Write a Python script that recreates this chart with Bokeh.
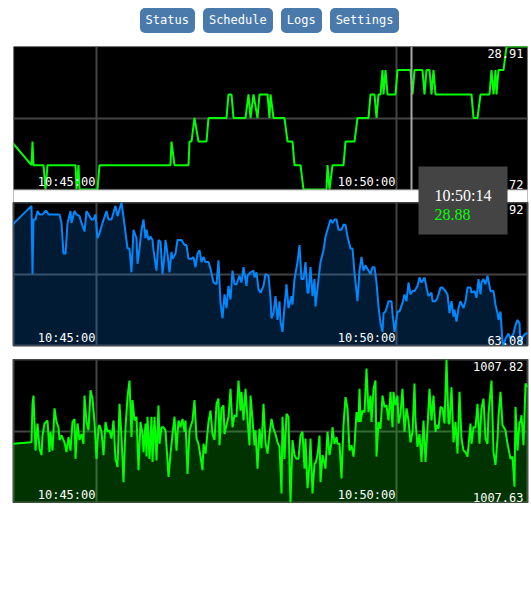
from datetime import datetime, timedelta

from bokeh.plotting import figure
from bokeh.models import Range1d, Grid, FixedTicker, Span, BoxAnnotation, Label, Div
from bokeh.layouts import column
from bokeh.core.properties import value
from bokeh.embed import file_html
from bokeh.resources import INLINE

# ---------------- data ----------------
buttons = ["Status", "Schedule", "Logs", "Settings"]

base_time = "10:45:00"                 # time of offset 0 (seconds)
tick_offsets = [0, 300]
tick_labels = ["10:45:00", "10:50:00"]
view_start, view_end = -83, 431        # visible window, seconds from base_time

hover_t = 314                           # sample under the mouse
cursor_t = 315                          # mouse position

# series 1 (temperature, green line)
t1 = [-85, -65, -64, -63, -53, -51, -49, -21, -20, -18, -17, 1, 3, 74, 75, 78, 92, 93, 95, 98,
      102, 110, 112, 130, 132, 135, 137, 149, 152, 154, 157, 161, 163, 171, 173, 174, 177, 188, 191, 196,
      198, 204, 207, 230, 231, 233, 236, 247, 249, 258, 261, 272, 274, 278, 280, 282, 284, 286, 287, 289,
      291, 299, 301, 314, 316, 318, 326, 328, 330, 333, 335, 337, 339, 375, 377, 381, 384, 393, 395, 397,
      399, 400, 402, 407, 410, 435]
v1 = [28.783, 28.752, 28.783, 28.752, 28.752, 28.720, 28.752, 28.752, 28.720, 28.752,
      28.720, 28.720, 28.752, 28.752, 28.783, 28.752, 28.752, 28.783, 28.783, 28.814,
      28.783, 28.783, 28.814, 28.814, 28.845, 28.845, 28.814, 28.814, 28.845, 28.814,
      28.845, 28.814, 28.845, 28.845, 28.814, 28.845, 28.814, 28.814, 28.783, 28.783,
      28.752, 28.752, 28.720, 28.720, 28.752, 28.720, 28.752, 28.752, 28.783, 28.783,
      28.814, 28.814, 28.845, 28.845, 28.814, 28.845, 28.845, 28.877, 28.845, 28.877,
      28.845, 28.845, 28.877, 28.877, 28.845, 28.877, 28.877, 28.845, 28.877, 28.877,
      28.845, 28.877, 28.845, 28.845, 28.814, 28.814, 28.845, 28.845, 28.877, 28.845,
      28.877, 28.845, 28.877, 28.877, 28.908, 28.908]

# series 2 (humidity, blue area)
t2 = [-84, -65, -64, -63, -61, -59, -57, -54, -51, -50, -48, -37, -35, -33, -31, -29, -26, -25, -22, -20,
      -17, -15, -12, -10, -7, -5, -3, -1, 1, 3, 6, 10, 12, 15, 19, 21, 23, 25, 28, 31,
      33, 35, 37, 40, 41, 43, 45, 47, 49, 50, 52, 54, 56, 57, 60, 62, 64, 66, 68, 69,
      71, 73, 75, 76, 79, 81, 85, 88, 90, 92, 95, 97, 99, 101, 103, 105, 107, 109, 112, 114,
      117, 120, 122, 124, 126, 128, 130, 132, 134, 136, 138, 140, 143, 145, 147, 150, 151, 154, 157, 158,
      160, 162, 164, 167, 169, 172, 174, 175, 177, 179, 181, 183, 184, 186, 188, 190, 192, 195, 196, 198,
      201, 203, 205, 207, 209, 211, 212, 214, 216, 218, 219, 222, 224, 227, 229, 231, 234, 236, 238, 240,
      242, 245, 247, 249, 251, 254, 256, 258, 261, 263, 265, 267, 269, 271, 274, 276, 278, 280, 282, 284,
      286, 287, 289, 292, 295, 296, 298, 301, 303, 306, 308, 310, 312, 314, 316, 318, 321, 323, 325, 328,
      330, 332, 335, 336, 339, 341, 344, 346, 349, 351, 353, 355, 357, 358, 360, 362, 364, 367, 369, 371,
      374, 375, 378, 380, 382, 384, 385, 387, 389, 391, 394, 397, 399, 401, 402, 404, 406, 407, 409, 412,
      414, 417, 419, 421, 423, 424, 426, 429, 432]
v2 = [63.79, 63.90, 63.50, 63.82, 63.82, 63.87, 63.85, 63.85, 63.87, 63.87,
      63.85, 63.85, 63.80, 63.62, 63.62, 63.80, 63.87, 63.80, 63.87, 63.85,
      63.84, 63.80, 63.75, 63.87, 63.84, 63.82, 63.82, 63.85, 63.71, 63.74,
      63.80, 63.87, 63.82, 63.82, 63.90, 63.84, 63.88, 63.92, 63.79, 63.65,
      63.65, 63.51, 63.76, 63.71, 63.56, 63.65, 63.76, 63.82, 63.71, 63.76,
      63.70, 63.72, 63.70, 63.64, 63.52, 63.70, 63.69, 63.50, 63.61, 63.70,
      63.62, 63.51, 63.63, 63.59, 63.62, 63.70, 63.70, 63.67, 63.67, 63.59,
      63.59, 63.60, 63.54, 63.62, 63.64, 63.57, 63.60, 63.57, 63.57, 63.53,
      63.45, 63.44, 63.58, 63.33, 63.24, 63.38, 63.30, 63.43, 63.35, 63.52,
      63.44, 63.44, 63.49, 63.45, 63.54, 63.43, 63.49, 63.51, 63.52, 63.48,
      63.51, 63.41, 63.39, 63.43, 63.50, 63.49, 63.36, 63.24, 63.27, 63.37,
      63.23, 63.34, 63.22, 63.16, 63.31, 63.44, 63.30, 63.37, 63.32, 63.47,
      63.57, 63.67, 63.47, 63.47, 63.57, 63.39, 63.39, 63.54, 63.37, 63.47,
      63.31, 63.47, 63.57, 63.64, 63.72, 63.76, 63.82, 63.80, 63.82, 63.82,
      63.76, 63.76, 63.79, 63.79, 63.72, 63.65, 63.65, 63.51, 63.34, 63.52,
      63.60, 63.52, 63.55, 63.53, 63.50, 63.54, 63.54, 63.45, 63.31, 63.21,
      63.16, 63.27, 63.28, 63.34, 63.34, 63.27, 63.16, 63.28, 63.28, 63.33,
      63.38, 63.34, 63.45, 63.38, 63.40, 63.40, 63.43, 63.48, 63.45, 63.48,
      63.42, 63.37, 63.39, 63.34, 63.34, 63.36, 63.42, 63.42, 63.40, 63.38,
      63.27, 63.34, 63.25, 63.29, 63.22, 63.30, 63.34, 63.30, 63.34, 63.42,
      63.42, 63.39, 63.40, 63.36, 63.47, 63.38, 63.45, 63.47, 63.44, 63.49,
      63.40, 63.40, 63.32, 63.27, 63.23, 63.28, 63.10, 63.08, 63.12, 63.15,
      63.12, 63.15, 63.20, 63.23, 63.21, 63.08, 63.13, 63.15, 63.15]

# series 3 (pressure, green area)
t3 = [-84, -65, -64, -63, -61, -60, -59, -57, -55, -54, -52, -49, -47, -46, -44, -42, -40, -38, -37, -35,
      -32, -30, -28, -26, -24, -22, -21, -19, -17, -15, -13, -12, -10, -8, -6, -4, -2, 0, 2, 3,
      5, 7, 9, 11, 13, 15, 17, 19, 21, 23, 25, 27, 29, 31, 33, 35, 36, 38, 40, 42,
      44, 46, 47, 49, 50, 51, 53, 55, 56, 58, 60, 62, 63, 65, 67, 69, 72, 74, 76, 78,
      80, 81, 82, 84, 86, 88, 89, 91, 93, 96, 98, 100, 102, 104, 106, 107, 109, 112, 114, 116,
      118, 120, 122, 123, 125, 127, 128, 130, 132, 134, 136, 138, 140, 142, 144, 145, 147, 149, 151, 153,
      154, 156, 158, 159, 161, 163, 165, 167, 169, 171, 173, 175, 177, 179, 181, 183, 185, 186, 188, 190,
      192, 193, 194, 196, 198, 200, 202, 204, 206, 208, 209, 211, 213, 214, 216, 218, 219, 221, 223, 224,
      226, 228, 229, 231, 233, 235, 236, 238, 240, 241, 243, 245, 247, 249, 251, 253, 255, 257, 258, 260,
      262, 263, 264, 266, 268, 270, 272, 274, 275, 277, 279, 280, 282, 284, 286, 288, 290, 292, 294, 296,
      297, 299, 301, 302, 304, 306, 308, 310, 312, 314, 316, 318, 319, 321, 323, 325, 327, 329, 331, 333,
      335, 337, 339, 340, 342, 344, 346, 348, 350, 352, 353, 355, 357, 359, 361, 363, 365, 367, 369, 371,
      374, 375, 377, 379, 381, 383, 385, 387, 389, 391, 392, 395, 397, 399, 401, 402, 404, 406, 409, 411,
      413, 414, 416, 418, 419, 421, 423, 424, 425, 427, 429, 432]
v3 = [1007.708, 1007.710, 1007.761, 1007.772, 1007.699, 1007.717, 1007.735, 1007.702, 1007.693, 1007.719,
      1007.735, 1007.739, 1007.697, 1007.724, 1007.699, 1007.755, 1007.737, 1007.730, 1007.713, 1007.719,
      1007.710, 1007.697, 1007.717, 1007.699, 1007.737, 1007.741, 1007.688, 1007.735, 1007.713, 1007.721,
      1007.708, 1007.772, 1007.737, 1007.726, 1007.779, 1007.768, 1007.737, 1007.688, 1007.730, 1007.733,
      1007.724, 1007.693, 1007.737, 1007.724, 1007.726, 1007.715, 1007.739, 1007.688, 1007.677, 1007.761,
      1007.717, 1007.657, 1007.730, 1007.770, 1007.792, 1007.717, 1007.766, 1007.739, 1007.744, 1007.673,
      1007.737, 1007.721, 1007.697, 1007.735, 1007.691, 1007.744, 1007.688, 1007.744, 1007.684, 1007.744,
      1007.686, 1007.759, 1007.708, 1007.730, 1007.730, 1007.726, 1007.664, 1007.695, 1007.721, 1007.744,
      1007.699, 1007.721, 1007.739, 1007.730, 1007.741, 1007.724, 1007.739, 1007.668, 1007.726, 1007.739,
      1007.766, 1007.715, 1007.708, 1007.691, 1007.673, 1007.708, 1007.695, 1007.737, 1007.752, 1007.721,
      1007.713, 1007.761, 1007.768, 1007.706, 1007.755, 1007.759, 1007.721, 1007.733, 1007.744, 1007.781,
      1007.730, 1007.746, 1007.744, 1007.792, 1007.752, 1007.777, 1007.739, 1007.781, 1007.741, 1007.706,
      1007.772, 1007.741, 1007.706, 1007.726, 1007.675, 1007.728, 1007.702, 1007.761, 1007.710, 1007.695,
      1007.721, 1007.741, 1007.728, 1007.721, 1007.710, 1007.704, 1007.642, 1007.744, 1007.688, 1007.748,
      1007.744, 1007.680, 1007.630, 1007.713, 1007.693, 1007.688, 1007.688, 1007.719, 1007.724, 1007.675,
      1007.715, 1007.649, 1007.680, 1007.715, 1007.642, 1007.682, 1007.682, 1007.693, 1007.719, 1007.657,
      1007.693, 1007.682, 1007.675, 1007.724, 1007.693, 1007.710, 1007.730, 1007.708, 1007.717, 1007.708,
      1007.708, 1007.662, 1007.733, 1007.770, 1007.755, 1007.699, 1007.706, 1007.691, 1007.706, 1007.750,
      1007.737, 1007.781, 1007.737, 1007.752, 1007.750, 1007.808, 1007.750, 1007.772, 1007.737, 1007.781,
      1007.792, 1007.691, 1007.737, 1007.728, 1007.772, 1007.757, 1007.759, 1007.739, 1007.777, 1007.730,
      1007.777, 1007.759, 1007.772, 1007.735, 1007.748, 1007.781, 1007.724, 1007.755, 1007.739, 1007.710,
      1007.724, 1007.788, 1007.739, 1007.704, 1007.721, 1007.684, 1007.739, 1007.684, 1007.730, 1007.781,
      1007.739, 1007.772, 1007.724, 1007.733, 1007.728, 1007.757, 1007.755, 1007.735, 1007.820, 1007.735,
      1007.735, 1007.783, 1007.710, 1007.737, 1007.695, 1007.777, 1007.715, 1007.699, 1007.697, 1007.691,
      1007.735, 1007.708, 1007.730, 1007.730, 1007.761, 1007.708, 1007.755, 1007.768, 1007.715, 1007.708,
      1007.748, 1007.792, 1007.697, 1007.680, 1007.715, 1007.744, 1007.777, 1007.733, 1007.726, 1007.708,
      1007.695, 1007.688, 1007.691, 1007.651, 1007.757, 1007.699, 1007.737, 1007.737, 1007.746, 1007.706,
      1007.788, 1007.783]

# ---------------- styling / layout ----------------
MONO = "DejaVu Sans Mono"
SERIF = "Liberation Serif"
GRID = "#444444"
PAGE_W = 531
PAD = 8            # visual page margin
LEFT = 13          # frame left edge on the page
BAND = 143         # chart height in px
GAP = 13           # gap below chart 1 (kept inside chart 1's frame so the tooltip can cross it)
TXT = dict(text_font=value(MONO), text_font_size="12px", text_color="#ffffff")


def make_chart(t, v, color, filled, height, border_bottom, extra_bottom=0):
    ymin, ymax = min(v), max(v)
    ystart = ymin - (ymax - ymin) * extra_bottom / BAND
    p = figure(width=PAGE_W, height=height,
               x_range=Range1d(view_start, view_end), y_range=Range1d(ystart, ymax),
               x_axis_location=None, y_axis_location=None,
               output_backend="svg", toolbar_location=None, tools="",
               min_border_left=LEFT, min_border_right=4,
               min_border_top=0, min_border_bottom=border_bottom,
               background_fill_color="black", border_fill_color="white",
               outline_line_color=GRID if extra_bottom == 0 else None, outline_line_width=2)
    p.grid.visible = False
    p.add_layout(Grid(dimension=0, ticker=FixedTicker(ticks=tick_offsets),
                      grid_line_color=GRID, grid_line_width=2))
    p.add_layout(Grid(dimension=1, ticker=FixedTicker(ticks=[(ymin + ymax) / 2]),
                      grid_line_color=GRID, grid_line_width=2))
    if filled:
        p.varea(x=t, y1=v, y2=ymin, fill_color=color, fill_alpha=0.2)
    p.line(t, v, line_color=color, line_width=2)

    p.text(x=tick_offsets, y=[ymin] * len(tick_offsets), text=tick_labels,
           text_align="right", text_baseline="bottom", x_offset=-1, y_offset=-1, **TXT)
    p.text(x=[view_end], y=[ymax], text=[f"{ymax:.2f}"], text_align="right",
           text_baseline="top", x_offset=-4, y_offset=2, **TXT)
    p.text(x=[view_end], y=[ymin], text=[f"{ymin:.2f}"], text_align="right",
           text_baseline="bottom", x_offset=-4, y_offset=-1, **TXT)
    return p, ymin, ymax


p1, y1min, y1max = make_chart(t1, v1, "#00ff00", False, BAND + GAP, 0, extra_bottom=GAP)
p2, _, _ = make_chart(t2, v2, "#0088ff", True, BAND + 14, 14)
p3, _, _ = make_chart(t3, v3, "#00ff00", True, BAND + 1, 1)

# hover cursor in chart 1
p1.add_layout(Span(location=cursor_t, dimension="height", line_color="#a8a8a8", line_width=2))
# white gap below chart 1 and its border
p1.add_layout(BoxAnnotation(left=0, right=PAGE_W, left_units="canvas", right_units="canvas",
                            top=y1min, bottom=BAND + GAP, bottom_units="canvas",
                            fill_color="white", fill_alpha=1.0, line_color=None))
p1.add_layout(BoxAnnotation(left=view_start, right=view_end, top=y1max, bottom=y1min,
                            fill_alpha=0, line_color=GRID, line_width=2))

h0 = datetime.strptime(base_time, "%H:%M:%S")
hover_time = (h0 + timedelta(seconds=hover_t)).strftime("%H:%M:%S")
hover_val = f"{v1[t1.index(hover_t)]:.2f}"

# tooltip box in page pixels
TIP_L, TIP_T, TIP_W, TIP_H = 418, 166, 89, 68
P1_TOP, P2_TOP = 46, 202
TIP_BG = "#444444"

for fig, top in ((p1, P1_TOP), (p2, P2_TOP)):
    fig.add_layout(BoxAnnotation(left=TIP_L, right=TIP_L + TIP_W,
                                 top=TIP_T - top, bottom=TIP_T + TIP_H - top,
                                 left_units="canvas", right_units="canvas",
                                 top_units="canvas", bottom_units="canvas",
                                 fill_color=TIP_BG, fill_alpha=1.0, line_color=None,
                                 level="overlay"))

p1.add_layout(Label(x=TIP_L + 16, y=TIP_T + 29 - P1_TOP, x_units="canvas", y_units="canvas",
                    text=hover_time, text_font=SERIF, text_font_size="16px",
                    text_color="#ffffff", text_baseline="alphabetic", level="overlay"))
p2.add_layout(Label(x=TIP_L + 16, y=TIP_T + 48 - P2_TOP, x_units="canvas", y_units="canvas",
                    text=hover_val, text_font=SERIF, text_font_size="16px",
                    text_color="#00ff00", text_baseline="alphabetic", level="overlay"))

# navigation buttons
btn_style = ("display:inline-block;background:#4a7aab;color:#ffffff;"
             f"font-family:'{MONO}';font-size:12px;height:25px;line-height:25px;"
             "padding:0 6px;border-radius:5px;box-sizing:border-box;")
btn_html = "".join(f'<span style="{btn_style}">{b}</span>' for b in buttons)
nav = Div(text=(f'<div style="margin:0 0 0 {PAD}px;padding-top:{PAD}px;width:{PAGE_W - PAD}px;'
                f'display:flex;justify-content:center;gap:8px;">{btn_html}</div>'),
          width=PAGE_W, height=P1_TOP, margin=(0, 0, 0, 0))

layout = column(nav, p1, p2, p3, spacing=0)

open("out.html", "w").write(file_html(layout, INLINE))
